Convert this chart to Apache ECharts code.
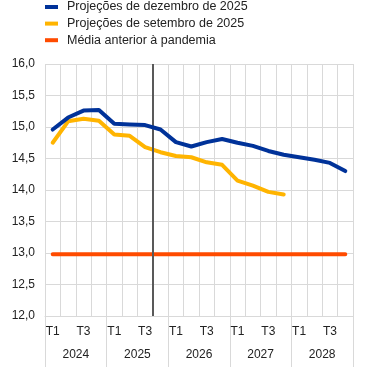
<!DOCTYPE html>
<html>
<head>
<meta charset="utf-8">
<script src="https://cdn.jsdelivr.net/npm/echarts@6/dist/echarts.min.js"></script>
<style>
html,body{margin:0;padding:0;background:#fff;}
#chart{width:369px;height:367px;}
</style>
</head>
<body>
<div id="chart"></div>
<script>
// Data
var quarters = ['T1','T2','T3','T4','T1','T2','T3','T4','T1','T2','T3','T4','T1','T2','T3','T4','T1','T2','T3','T4'];
var years = ['2024','2025','2026','2027','2028'];
var decProjections = [14.96,15.15,15.26,15.27,15.05,15.04,15.03,14.96,14.76,14.69,14.76,14.81,14.75,14.70,14.62,14.56,14.52,14.48,14.43,14.30];
var sepProjections = [14.75,15.09,15.13,15.10,14.88,14.86,14.68,14.60,14.54,14.52,14.44,14.40,14.15,14.07,13.97,13.93];
var prePandemicAvg = [12.98,12.98,12.98,12.98,12.98,12.98,12.98,12.98,12.98,12.98,12.98,12.98,12.98,12.98,12.98,12.98,12.98,12.98,12.98,12.98];
var projectionStart = 7; // boundary between 2025 T3 and 2025 T4
var yTicks = {min: 12, max: 16, interval: 0.5};
var seriesNames = ['Projeções de dezembro de 2025','Projeções de setembro de 2025','Média anterior à pandemia'];

var chart = echarts.init(document.getElementById('chart'), null, {renderer: 'canvas'});
var font = 'Liberation Sans, Arial, sans-serif';
var gridColor = '#d9d9d9';
var option = {
  animation: false,
  backgroundColor: '#fff',
  legend: {
    orient: 'vertical',
    left: 45, top: 0, padding: 0,
    icon: 'rect',
    itemWidth: 13, itemHeight: 4,
    itemGap: 2.6,
    data: seriesNames,
    textStyle: {fontFamily: font, fontSize: 12.5, color: '#222', lineHeight: 14, padding: [0,0,0,4]}
  },
  grid: {left: 45, right: 16, top: 64, bottom: 51, containLabel: false},
  xAxis: [
    {
      type: 'category', data: quarters, boundaryGap: true, position: 'bottom',
      axisLine: {show: true, lineStyle: {color: gridColor}},
      axisTick: {show: false},
      axisLabel: {interval: 1, margin: 10, fontFamily: font, fontSize: 12, color: '#222'},
      splitLine: {show: true, interval: 0, lineStyle: {color: gridColor, width: 1}}
    },
    {
      type: 'category', data: years, boundaryGap: true, position: 'bottom',
      axisLine: {show: false},
      axisTick: {show: true, interval: 0, length: 52, lineStyle: {color: gridColor}},
      axisLabel: {interval: 0, margin: 33, fontFamily: font, fontSize: 12, color: '#222'},
      splitLine: {show: false}
    },
    {
      type: 'value', min: 0, max: quarters.length, show: false
    }
  ],
  yAxis: {
    type: 'value', min: yTicks.min, max: yTicks.max, interval: yTicks.interval,
    axisLine: {show: false}, axisTick: {show: false},
    axisLabel: {margin: 10, fontFamily: font, fontSize: 12, color: '#222',
      formatter: function(v){ return v.toFixed(1).replace('.', ','); }},
    splitLine: {show: true, lineStyle: {color: gridColor, width: 1}}
  },
  series: [
    {
      name: 'marker', type: 'line', xAxisIndex: 2, data: [], z: 1,
      silent: true, symbol: 'none',
      markLine: {
        silent: true, symbol: ['none','none'], label: {show: false},
        lineStyle: {color: '#595959', width: 2, type: 'solid'},
        data: [{xAxis: projectionStart}]
      }
    },
    {
      name: seriesNames[2], type: 'line', data: prePandemicAvg, z: 3,
      symbol: 'none', itemStyle: {color: '#ff4b00'},
      lineStyle: {color: '#ff4b00', width: 4, cap: 'round'}
    },
    {
      name: seriesNames[1], type: 'line', data: sepProjections, z: 4,
      symbol: 'none', itemStyle: {color: '#ffb400'},
      lineStyle: {color: '#ffb400', width: 4, cap: 'round', join: 'round'}
    },
    {
      name: seriesNames[0], type: 'line', data: decProjections, z: 5,
      symbol: 'none', itemStyle: {color: '#003299'},
      lineStyle: {color: '#003299', width: 4, cap: 'round', join: 'round'}
    }
  ]
};
chart.setOption(option);
</script>
</body>
</html>
